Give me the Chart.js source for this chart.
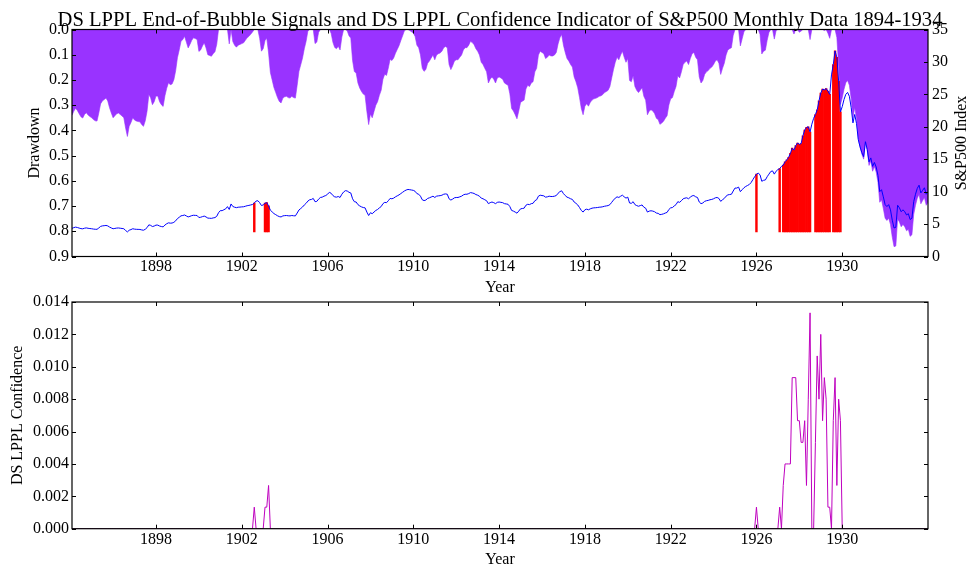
<!DOCTYPE html>
<html>
<head>
<meta charset="utf-8">
<script src="https://cdn.jsdelivr.net/npm/chart.js@4.4.0/dist/chart.umd.min.js"></script>
<style>
  body { margin: 0; background: #fff; }
  #wrap { position: relative; width: 973px; height: 572px; }
  canvas { position: absolute; left: 0; }
  #topChart { top: 0; }
  #bottomChart { top: 280px; }
</style>
</head>
<body>
<div id="wrap">
  <canvas id="topChart" width="973" height="300"></canvas>
  <canvas id="bottomChart" width="973" height="292"></canvas>
</div>
<script>
// monthly data, Jan 1894 .. Dec 1933
const startYear = 1894;

const sp500 = [
  4.34, 4.45, 4.53, 4.47, 4.38, 4.30, 4.27, 4.36, 4.41, 4.35, 4.31, 4.28,   // 1894
  4.23, 4.20, 4.19, 4.40, 4.64, 4.72, 4.75, 4.79, 4.72, 4.54, 4.40, 4.28,   // 1895
  4.33, 4.38, 4.40, 4.36, 4.32, 4.28, 4.01, 3.79, 4.05, 4.15, 4.28, 4.22,   // 1896
  4.19, 4.18, 4.17, 4.10, 4.05, 4.20, 4.45, 4.88, 4.80, 4.62, 4.70, 4.84,   // 1897
  4.84, 4.70, 4.62, 4.57, 4.85, 5.05, 5.19, 5.14, 5.16, 5.27, 5.50, 5.84,   // 1898
  6.05, 6.27, 6.32, 6.40, 6.25, 6.10, 6.19, 6.30, 6.36, 6.34, 6.32, 6.01,   // 1899
  6.05, 6.15, 6.23, 6.10, 5.92, 5.90, 5.88, 5.95, 6.00, 6.20, 6.75, 7.07,   // 1900
  7.07, 7.21, 7.35, 7.69, 7.25, 8.10, 7.71, 7.60, 7.53, 7.60, 7.62, 7.65,   // 1901
  7.67, 7.75, 7.83, 7.88, 7.95, 8.02, 8.25, 8.55, 8.60, 8.30, 7.86, 7.95,   // 1902
  8.22, 8.30, 7.80, 7.14, 6.88, 6.62, 6.45, 6.28, 6.15, 6.10, 6.26, 6.30,   // 1903
  6.32, 6.28, 6.26, 6.32, 6.28, 6.26, 6.70, 7.17, 7.40, 7.63, 7.95, 8.20,   // 1904
  8.55, 8.75, 8.80, 8.95, 8.45, 8.50, 8.85, 9.10, 9.15, 9.30, 9.40, 9.60,   // 1905
  9.90, 9.75, 9.40, 9.20, 9.15, 9.25, 9.10, 9.60, 9.95, 10.15, 10.10, 9.90, // 1906
  9.80, 8.90, 8.45, 8.40, 8.00, 7.80, 7.65, 7.55, 7.50, 6.85, 6.32, 6.75,   // 1907
  6.60, 6.85, 7.10, 7.25, 7.50, 7.70, 8.15, 8.35, 8.30, 8.60, 8.95, 8.90,   // 1908
  9.00, 9.20, 9.35, 9.50, 9.70, 9.90, 10.10, 10.25, 10.34, 10.30, 10.25, 10.20, // 1909
  10.05, 9.70, 9.60, 9.30, 8.75, 8.62, 8.70, 8.95, 9.05, 9.17, 9.30, 9.10,  // 1910
  9.30, 9.35, 9.38, 9.45, 9.60, 9.65, 9.60, 8.90, 8.70, 8.85, 9.05, 9.10,   // 1911
  9.10, 9.20, 9.30, 9.50, 9.60, 9.60, 9.70, 9.85, 9.80, 9.72, 9.55, 9.45,   // 1912
  9.30, 9.00, 8.90, 8.75, 8.60, 8.15, 8.30, 8.40, 8.30, 8.15, 8.35, 8.40,   // 1913
  8.35, 8.30, 8.15, 8.10, 8.05, 7.70, 7.10, 7.00, 6.85, 6.68, 7.00, 7.35,   // 1914
  7.40, 7.45, 7.90, 8.05, 8.00, 8.15, 8.20, 8.60, 8.75, 9.30, 9.45, 9.40,   // 1915
  9.35, 9.15, 9.20, 9.30, 9.25, 9.25, 9.30, 9.40, 9.75, 10.00, 10.13, 9.70, // 1916
  9.40, 9.15, 9.05, 8.90, 8.80, 8.40, 8.20, 7.95, 7.55, 7.10, 6.85, 7.20,   // 1917
  7.30, 7.20, 7.35, 7.45, 7.50, 7.52, 7.55, 7.60, 7.62, 7.67, 7.75, 7.80,   // 1918
  7.85, 8.00, 8.35, 8.70, 9.00, 9.20, 9.10, 9.30, 9.45, 9.20, 9.00, 9.15,   // 1919
  8.25, 8.20, 8.45, 8.00, 7.85, 7.75, 7.85, 7.95, 7.60, 7.45, 6.85, 7.00,   // 1920
  7.05, 7.00, 6.90, 6.70, 6.65, 6.45, 6.50, 6.58, 6.70, 6.80, 7.25, 7.50,   // 1921
  7.55, 7.80, 8.00, 8.45, 8.35, 8.60, 8.90, 9.00, 9.05, 8.90, 9.15, 9.35,   // 1922
  9.40, 9.20, 9.10, 8.40, 8.15, 8.25, 8.50, 8.60, 8.65, 8.75, 8.80, 8.90,   // 1923
  9.05, 9.10, 8.95, 8.50, 8.75, 8.95, 9.30, 9.50, 9.55, 9.60, 10.10, 10.55, // 1924
  10.55, 10.70, 10.00, 10.30, 10.60, 10.80, 10.95, 11.10, 11.40, 11.85, 12.30, 12.70, // 1925
  12.85, 12.60, 11.60, 11.75, 11.80, 12.30, 12.70, 13.10, 13.20, 12.70, 13.15, 13.40, // 1926
  13.55, 13.90, 14.10, 14.60, 14.90, 15.30, 15.90, 16.70, 16.40, 17.10, 17.50, 17.30, // 1927
  17.40, 18.60, 19.50, 19.90, 20.00, 19.20, 20.40, 21.30, 21.90, 22.60, 24.00, 25.20, // 1928
  25.80, 25.70, 25.90, 25.50, 25.00, 28.00, 29.60, 31.70, 30.70, 27.00, 22.30, 23.10, // 1929
  24.20, 25.00, 25.30, 24.70, 23.00, 20.60, 21.90, 20.50, 18.00, 16.90, 16.00, 15.40, // 1930
  17.70, 16.50, 14.60, 15.20, 13.90, 14.50, 13.80, 12.50, 10.00, 10.30, 9.20, 8.00,   // 1931
  7.70, 8.00, 7.20, 5.60, 4.40, 4.50, 7.90, 7.50, 6.90, 7.20, 6.90, 6.40,   // 1932
  6.60, 5.70, 5.90, 8.45, 9.60, 10.50, 11.00, 9.80, 10.20, 10.60, 9.60, 10.00 // 1933
];

const drawdown = [
  .340, .324, .312, .321, .334, .346, .351, .337, .330, .339, .345, .350,  // 1894
  .357, .362, .363, .331, .295, .283, .278, .272, .283, .310, .331, .350,  // 1895
  .342, .334, .331, .337, .343, .350, .391, .424, .384, .369, .350, .359,  // 1896
  .363, .365, .366, .377, .384, .362, .324, .258, .271, .298, .286, .264,  // 1897
  .264, .286, .298, .305, .263, .233, .211, .219, .216, .199, .164, .112,  // 1898
  .081, .047, .040, .027, .050, .073, .059, .043, .033, .036, .040, .087,  // 1899
  .081, .065, .053, .073, .100, .103, .106, .096, .088, .058, 0, 0,        // 1900
  0, 0, 0, 0, .057, 0, .048, .062, .070, .062, .059, .056,                 // 1901
  .053, .043, .033, .027, .019, .010, 0, 0, 0, .035, .086, .076,           // 1902
  .044, .035, .093, .170, .200, .230, .250, .270, .285, .291, .272, .267,  // 1903
  .265, .270, .272, .265, .270, .272, .221, .166, .140, .113, .076, .047,  // 1904
  .006, 0, 0, 0, .056, .050, .011, 0, 0, 0, 0, 0,                          // 1905
  0, .015, .051, .071, .076, .066, .081, .030, 0, 0, .005, .025,           // 1906
  .034, .123, .167, .172, .212, .232, .246, .256, .261, .325, .377, .335,  // 1907
  .350, .325, .300, .286, .261, .241, .197, .177, .182, .153, .118, .123,  // 1908
  .113, .094, .079, .064, .044, .025, .005, 0, 0, .004, .009, .014,        // 1909
  .028, .062, .072, .101, .154, .166, .159, .134, .125, .113, .101, .120,  // 1910
  .101, .096, .093, .086, .072, .067, .072, .139, .159, .144, .125, .120,  // 1911
  .120, .110, .101, .081, .072, .072, .062, .047, .052, .060, .076, .086,  // 1912
  .101, .130, .139, .154, .168, .212, .197, .188, .197, .212, .192, .188,  // 1913
  .192, .197, .212, .217, .221, .255, .313, .323, .338, .354, .323, .289,  // 1914
  .284, .280, .236, .221, .226, .212, .207, .168, .154, .101, .086, .091,  // 1915
  .096, .115, .110, .101, .105, .105, .101, .091, .057, .033, .020, .062,  // 1916
  .091, .115, .125, .139, .149, .188, .207, .231, .270, .313, .338, .304,  // 1917
  .294, .304, .289, .280, .275, .273, .270, .265, .263, .258, .250, .246,  // 1918
  .241, .226, .192, .159, .130, .110, .120, .101, .086, .110, .130, .115,  // 1919
  .202, .207, .183, .226, .241, .250, .241, .231, .265, .280, .338, .323,  // 1920
  .318, .323, .333, .352, .357, .376, .371, .364, .352, .342, .299, .275,  // 1921
  .270, .246, .226, .183, .192, .168, .139, .130, .125, .139, .115, .096,  // 1922
  .091, .110, .120, .188, .212, .202, .178, .168, .163, .154, .149, .139,  // 1923
  .125, .120, .134, .178, .154, .134, .101, .081, .076, .072, .023, 0,     // 1924
  0, 0, .065, .037, .009, 0, 0, 0, 0, 0, 0, 0,                             // 1925
  0, .019, .097, .086, .082, .043, .012, 0, 0, .038, .004, 0,              // 1926
  0, 0, 0, 0, 0, 0, 0, 0, .018, 0, 0, .011,                                // 1927
  .006, 0, 0, 0, 0, .040, 0, 0, 0, 0, 0, 0,                                // 1928
  0, .004, 0, .015, .035, 0, 0, 0, .032, .148, .297, .271,                 // 1929
  .237, .211, .202, .221, .274, .350, .309, .353, .432, .467, .495, .514,  // 1930
  .442, .480, .539, .521, .562, .543, .565, .606, .685, .675, .710, .748,  // 1931
  .757, .748, .773, .823, .861, .858, .751, .763, .782, .773, .782, .798,  // 1932
  .792, .820, .814, .733, .697, .669, .653, .691, .678, .666, .697, .685   // 1933
];

// months with a DS LPPL signal and their confidence (zero in every other month)
const signalMonths = [
  '1902-07', '1903-01', '1903-02', '1903-03', '1925-12', '1927-01',
  '1927-03', '1927-04', '1927-05', '1927-06', '1927-07', '1927-08',
  '1927-09', '1927-10', '1927-11', '1927-12', '1928-01', '1928-02',
  '1928-03', '1928-04', '1928-05', '1928-06', '1928-09', '1928-10',
  '1928-11', '1928-12', '1929-01', '1929-02', '1929-03', '1929-04',
  '1929-05', '1929-07', '1929-08', '1929-09', '1929-10', '1929-11'
];
const confidence = [
  0.00133, 0.00133, 0.00133, 0.00267, 0.00133, 0.00133,
  0.00267, 0.004, 0.004, 0.004, 0.004, 0.00933,
  0.00933, 0.00933, 0.00667, 0.00667, 0.00533, 0.00533,
  0.00667, 0.00267, 0.008, 0.01333, 0.00533, 0.01067,
  0.008, 0.012, 0.00667, 0.00933, 0.008, 0.00133,
  0.00133, 0.00667, 0.00933, 0.00267, 0.008, 0.00667
];

const yearTicks = [1898, 1902, 1906, 1910, 1914, 1918, 1922, 1926, 1930];
const drawdownTicks = [0, 0.1, 0.2, 0.3, 0.4, 0.5, 0.6, 0.7, 0.8, 0.9];
const indexTicks = [0, 5, 10, 15, 20, 25, 30, 35];
const confTicks = [0, 0.002, 0.004, 0.006, 0.008, 0.010, 0.012, 0.014];

// ---- build the chart data ----
const monthX = sp500.map((_, i) => startYear + (i + 1) / 12);
const monthIndex = s => {
  const [y, m] = s.split('-').map(Number);
  return (y - startYear) * 12 + m - 1;
};
const confSeries = sp500.map(() => 0);
signalMonths.forEach((s, j) => { confSeries[monthIndex(s)] = confidence[j]; });

const signalBase = 3.8;   // red bars start at the 0.8 drawdown level
const signalBars = signalMonths.map(s => {
  const i = monthIndex(s);
  return { x: monthX[i], y: [signalBase, sp500[i]] };
});

Chart.defaults.font.family = "'Liberation Serif', 'DejaVu Serif', serif";
Chart.defaults.font.size = 16;
Chart.defaults.color = '#000';

// box round the axes with inward ticks on all four sides
const frame = {
  id: 'frame',
  afterDatasetsDraw(chart) {
    const { ctx, chartArea: a, scales } = chart;
    const L = 4;
    const left = scales.yDD || scales.y;
    const right = scales.yIdx || scales.y;
    ctx.save();
    ctx.strokeStyle = '#000';
    ctx.lineWidth = 1;
    ctx.beginPath();
    scales.x.ticks.forEach(t => {
      const p = Math.round(scales.x.getPixelForValue(t.value)) + 0.5;
      ctx.moveTo(p, a.bottom); ctx.lineTo(p, a.bottom - L);
      ctx.moveTo(p, a.top); ctx.lineTo(p, a.top + L);
    });
    left.ticks.forEach(t => {
      const p = Math.round(left.getPixelForValue(t.value)) + 0.5;
      ctx.moveTo(a.left, p); ctx.lineTo(a.left + L, p);
    });
    right.ticks.forEach(t => {
      const p = Math.round(right.getPixelForValue(t.value)) + 0.5;
      ctx.moveTo(a.right, p); ctx.lineTo(a.right - L, p);
    });
    ctx.stroke();
    ctx.lineWidth = 1.2;
    ctx.strokeRect(a.left, a.top, a.right - a.left, a.bottom - a.top);
    ctx.restore();
  }
};

// free text: the title and the rotated right axis label
const texts = {
  id: 'texts',
  afterDraw(chart, args, opts) {
    const { ctx, chartArea: a } = chart;
    (opts.items || []).forEach(it => {
      ctx.save();
      ctx.font = it.size + "px 'Liberation Serif', 'DejaVu Serif', serif";
      ctx.fillStyle = '#000';
      ctx.textAlign = 'center';
      ctx.textBaseline = 'alphabetic';
      const x = it.x === 'center' ? (a.left + a.right) / 2 : it.x;
      const y = it.y === 'middle' ? (a.top + a.bottom) / 2 : it.y;
      ctx.translate(x, y);
      if (it.rotate) ctx.rotate(it.rotate);
      ctx.fillText(it.text, 0, 0);
      ctx.restore();
    });
  }
};

const setTicks = list => scale => { scale.ticks = list.map(v => ({ value: v })); };
const noGrid = { display: false, drawTicks: false };

const xScale = height => ({
  type: 'linear',
  min: monthX[0],
  max: monthX[monthX.length - 1],
  offset: false,
  grid: noGrid,
  border: { display: false },
  ticks: { padding: 1, maxRotation: 0, autoSkip: false, callback: v => String(v) },
  afterBuildTicks: setTicks(yearTicks),
  afterFit: s => { s.height = height; },
  title: { display: true, text: 'Year', padding: { top: 0, bottom: 2.4 } }
});

new Chart(document.getElementById('topChart'), {
  type: 'line',
  data: {
    datasets: [
      {
        label: 'S&P500 Index',
        data: sp500.map((v, i) => ({ x: monthX[i], y: v })),
        yAxisID: 'yIdx',
        borderColor: '#0000ff',
        borderWidth: 1,
        pointRadius: 0,
        tension: 0,
        order: 0
      },
      {
        type: 'bar',
        label: 'End-of-Bubble Signal',
        data: signalBars,
        yAxisID: 'yIdx',
        backgroundColor: '#ff0000',
        borderWidth: 0,
        barPercentage: 1,
        categoryPercentage: 1,
        order: 1
      },
      {
        label: 'Drawdown',
        data: drawdown.map((v, i) => ({ x: monthX[i], y: v })),
        yAxisID: 'yDD',
        borderColor: '#9933ff',
        backgroundColor: '#9933ff',
        borderWidth: 0.6,
        pointRadius: 0,
        tension: 0,
        fill: { value: 0 },
        order: 2
      }
    ]
  },
  options: {
    responsive: false,
    animation: false,
    events: [],
    layout: { padding: { top: 29.5, left: 0, right: 0, bottom: 0 }, autoPadding: false },
    plugins: {
      legend: { display: false },
      tooltip: { enabled: false },
      texts: {
        items: [
          { text: 'DS LPPL End-of-Bubble Signals and DS LPPL Confidence Indicator of S&P500 Monthly Data 1894-1934',
            x: 'center', y: 25.5, size: 20.6 },
          { text: 'S&P500 Index', x: 966, y: 'middle', size: 16, rotate: -Math.PI / 2 }
        ]
      }
    },
    scales: {
      x: xScale(43.5),
      yDD: {
        type: 'linear',
        position: 'left',
        reverse: true,
        min: 0,
        max: 0.9,
        grid: noGrid,
        border: { display: false },
        ticks: { padding: 3, callback: v => v.toFixed(1) },
        afterBuildTicks: setTicks(drawdownTicks),
        afterFit: s => { s.width = 72; },
        title: { display: true, text: 'Drawdown', padding: { top: 25, bottom: 0 } }
      },
      yIdx: {
        type: 'linear',
        position: 'right',
        min: 0,
        max: 35,
        grid: noGrid,
        border: { display: false },
        ticks: { padding: 4, callback: v => String(v) },
        afterBuildTicks: setTicks(indexTicks),
        afterFit: s => { s.width = 45; }
      }
    }
  },
  plugins: [frame, texts]
});

new Chart(document.getElementById('bottomChart'), {
  type: 'line',
  data: {
    datasets: [{
      label: 'DS LPPL Confidence',
      data: confSeries.map((v, i) => ({ x: monthX[i], y: v })),
      borderColor: '#bf00bf',
      borderWidth: 1,
      pointRadius: 0,
      tension: 0
    }]
  },
  options: {
    responsive: false,
    animation: false,
    events: [],
    layout: { padding: { top: 22, left: 0, right: 45, bottom: 0 }, autoPadding: false },
    plugins: { legend: { display: false }, tooltip: { enabled: false } },
    scales: {
      x: xScale(43.3),
      y: {
        type: 'linear',
        position: 'left',
        min: 0,
        max: 0.014,
        grid: noGrid,
        border: { display: false },
        ticks: { padding: 3, callback: v => v.toFixed(3) },
        afterBuildTicks: setTicks(confTicks),
        afterFit: s => { s.width = 72; },
        title: { display: true, text: 'DS LPPL Confidence', padding: { top: 8, bottom: 0 } }
      }
    }
  },
  plugins: [frame]
});
</script>
</body>
</html>
